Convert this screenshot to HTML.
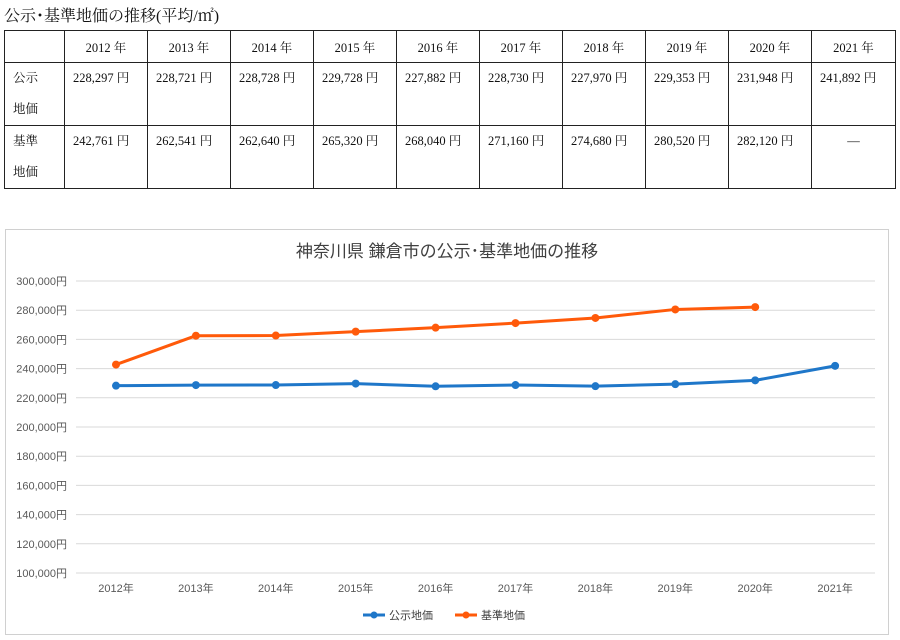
<!DOCTYPE html>
<html><head><meta charset="utf-8"><style>
body{margin:0;width:900px;height:640px;background:#fff;font-family:"Liberation Serif","Noto Serif CJK SC",serif;position:relative;overflow:hidden}
h1{position:absolute;left:4px;top:3px;margin:0;font-size:16px;font-weight:normal;color:#111}
table{position:absolute;left:4px;top:30px;border-collapse:collapse;table-layout:fixed;width:891px;font-size:12.5px;color:#111}
td{border:1px solid #222;padding:0 0 0 8px;vertical-align:top;box-sizing:border-box;white-space:nowrap}
tr.h td{height:32px;text-align:center;vertical-align:middle;padding:0}
tr.r td{height:62px;line-height:31px;padding-top:0}
#chart{position:absolute;left:5px;top:229px}
</style></head><body>
<h1>公示･基準地価の推移(平均/㎡)</h1>
<table>
<colgroup><col style="width:60px"><col style="width:83px"><col style="width:83px"><col style="width:83px"><col style="width:83px"><col style="width:83px"><col style="width:83px"><col style="width:83px"><col style="width:83px"><col style="width:83px"><col style="width:84px"></colgroup>
<tr class="h"><td></td><td>2012 年</td><td>2013 年</td><td>2014 年</td><td>2015 年</td><td>2016 年</td><td>2017 年</td><td>2018 年</td><td>2019 年</td><td>2020 年</td><td>2021 年</td></tr>
<tr class="r"><td>公示<br>地価</td><td>228,297 円</td><td>228,721 円</td><td>228,728 円</td><td>229,728 円</td><td>227,882 円</td><td>228,730 円</td><td>227,970 円</td><td>229,353 円</td><td>231,948 円</td><td>241,892 円</td></tr>
<tr class="r"><td>基準<br>地価</td><td>242,761 円</td><td>262,541 円</td><td>262,640 円</td><td>265,320 円</td><td>268,040 円</td><td>271,160 円</td><td>274,680 円</td><td>280,520 円</td><td>282,120 円</td><td style="text-align:center;padding:0">―</td></tr>
</table>
<svg id="chart" width="884" height="406" font-family="Liberation Sans, Noto Sans CJK JP, sans-serif">
<rect x="0.5" y="0.5" width="883" height="405" fill="#fff" stroke="#d0d0d0"/>
<text x="442" y="28" text-anchor="middle" font-size="17" fill="#404040">神奈川県 鎌倉市の公示･基準地価の推移</text>
<g id="grid"></g><g id="series"></g>
<g>
<line x1="358" y1="386" x2="380" y2="386" stroke="#1f77c9" stroke-width="3"/><circle cx="369" cy="386" r="3.5" fill="#1f77c9"/>
<text x="384" y="390" font-size="11" fill="#404040">公示地価</text>
<line x1="450" y1="386" x2="472" y2="386" stroke="#ff5a0a" stroke-width="3"/><circle cx="461" cy="386" r="3.5" fill="#ff5a0a"/>
<text x="476" y="390" font-size="11" fill="#404040">基準地価</text>
</g>
</svg>
<script>
const categories=["2012年","2013年","2014年","2015年","2016年","2017年","2018年","2019年","2020年","2021年"];
const koji=[228297,228721,228728,229728,227882,228730,227970,229353,231948,241892];
const kijun=[242761,262541,262640,265320,268040,271160,274680,280520,282120,null];
const yTicks=[100000,120000,140000,160000,180000,200000,220000,240000,260000,280000,300000];
const ns="http://www.w3.org/2000/svg";
const y=v=>344-(v-100000)/200000*292;
const x=i=>111+i*79.9;
const grid=document.getElementById('grid'),ser=document.getElementById('series');
function mk(t,a,p){const e=document.createElementNS(ns,t);for(const k in a)e.setAttribute(k,a[k]);p.appendChild(e);return e;}
yTicks.forEach(v=>{
 const l=mk('line',{x1:71,x2:870,y1:y(v),y2:y(v),stroke:'#d9d9d9','stroke-width':1},grid);
 
 
 const t=mk('text',{x:62,y:y(v)+4,'text-anchor':'end','font-size':11,fill:'#595959'},grid);
 t.textContent=v.toLocaleString('en-US')+'円';
 
 
});
categories.forEach((c,i)=>{
 const t=mk('text',{x:x(i),y:363,'text-anchor':'middle','font-size':11,fill:'#595959'},grid);
 t.textContent=c;
 
 
});
function draw(d,col,name){
 const pts=d.map((v,i)=>v==null?null:[x(i),y(v)]).filter(p=>p);
 const pl=mk('polyline',{points:pts.map(p=>p.join(',')).join(' '),fill:'none',stroke:col,'stroke-width':3,'stroke-linejoin':'round'},ser);
 
 
 pts.forEach(p=>{const c=mk('circle',{cx:p[0],cy:p[1],r:4,fill:col},ser);
 
 });
}
draw(koji,'#1f77c9','koji');
draw(kijun,'#ff5a0a','kijun');
</script>
</body></html>
